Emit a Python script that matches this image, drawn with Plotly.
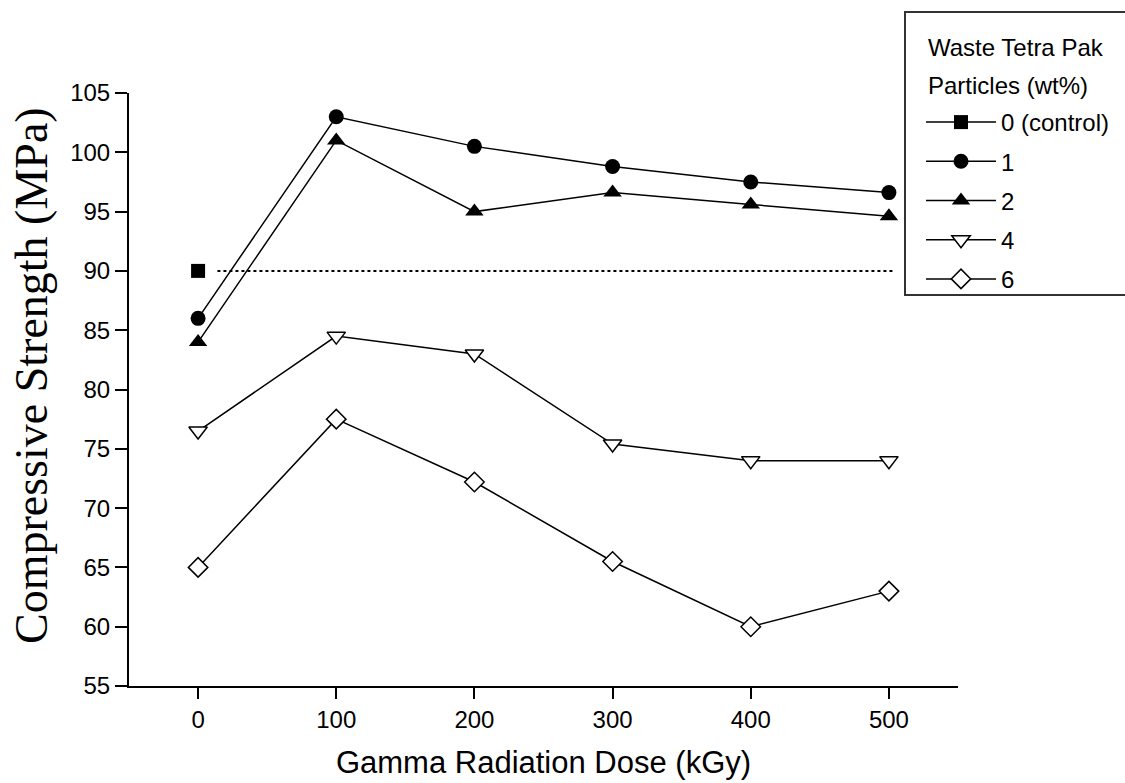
import plotly.graph_objects as go

dose = [0, 100, 200, 300, 400, 500]
control_dose = [0]
control_val = [90]
ref_line_x = [14, 503]
ref_line_y = [90, 90]
s1 = [86, 103, 100.5, 98.8, 97.5, 96.6]
s2 = [84, 101, 95, 96.6, 95.6, 94.6]
s4 = [76.5, 84.5, 83, 75.4, 74, 74]
s6 = [65, 77.5, 72.2, 65.5, 60, 63]
names = ["0 (control)", "1", "2", "4", "6"]
x_ticks = [0, 100, 200, 300, 400, 500]
y_ticks = [55, 60, 65, 70, 75, 80, 85, 90, 95, 100, 105]

fig = go.Figure()
black = "black"
lw = 1.5

fig.add_trace(go.Scatter(x=ref_line_x, y=ref_line_y, mode="lines",
                         line=dict(color=black, width=2, dash="dot"),
                         showlegend=False, hoverinfo="skip"))
fig.add_trace(go.Scatter(x=control_dose, y=control_val, mode="lines+markers", name=names[0],
                         legendgroup="a",
                         line=dict(color=black, width=lw),
                         marker=dict(symbol="square", size=14, color=black)))
fig.add_trace(go.Scatter(x=dose, y=s1, mode="lines+markers", name=names[1], legendgroup="b",
                         line=dict(color=black, width=lw),
                         marker=dict(symbol="circle", size=15, color=black)))
fig.add_trace(go.Scatter(x=dose, y=s2, mode="lines+markers", name=names[2], legendgroup="c",
                         line=dict(color=black, width=lw),
                         marker=dict(symbol="triangle-up", size=16, color=black)))
fig.add_trace(go.Scatter(x=dose, y=s4, mode="lines+markers", name=names[3], legendgroup="d",
                         line=dict(color=black, width=lw),
                         marker=dict(symbol="triangle-down", size=16, color="white",
                                     line=dict(color=black, width=1.5))))
fig.add_trace(go.Scatter(x=dose, y=s6, mode="lines+markers", name=names[4], legendgroup="e",
                         line=dict(color=black, width=lw),
                         marker=dict(symbol="diamond", size=15, color="white",
                                     line=dict(color=black, width=1.5))))

L, R, T, B = 129, 167, 93, 97
W, H = 1125, 783
pw, ph = W - L - R, H - T - B

def px_x(p):
    return (p - L) / pw

def px_y(p):
    return (H - B - p) / ph

fig.update_layout(
    width=W, height=H,
    margin=dict(l=L, r=R, t=T, b=B, pad=0, autoexpand=False),
    paper_bgcolor="white", plot_bgcolor="white",
    font=dict(family="Liberation Sans, Arial", size=24, color="black"),
    xaxis=dict(range=[-50, 550], tickvals=x_ticks, ticks="outside", ticklen=11, tickwidth=2,
               tickcolor=black, showline=True, linecolor=black, linewidth=2, showgrid=False,
               zeroline=False, tickfont=dict(size=24), automargin=False,
               title=dict(text="Gamma Radiation Dose (kGy)", font=dict(size=31), standoff=20)),
    yaxis=dict(range=[55, 105], tickvals=y_ticks, ticks="outside", ticklen=12, tickwidth=2,
               tickcolor=black, showline=True, linecolor=black, linewidth=2, showgrid=False,
               zeroline=False, tickfont=dict(size=24), automargin=False),
    legend=dict(x=px_x(921), y=px_y(100), xanchor="left", yanchor="top",
                bgcolor="rgba(0,0,0,0)", borderwidth=0, itemwidth=70,
                font=dict(size=24), tracegroupgap=5, traceorder="grouped"),
    showlegend=True,
)

fig.add_annotation(text="Compressive Strength (MPa)", xref="paper", yref="paper",
                   x=px_x(31), y=px_y(376), xanchor="center", yanchor="middle",
                   textangle=-90, showarrow=False,
                   font=dict(family="Liberation Serif, Times New Roman", size=46))
fig.add_shape(type="rect", xref="paper", yref="paper",
              x0=px_x(905), x1=px_x(1128), y0=px_y(295), y1=px_y(12),
              line=dict(color="#333333", width=2), fillcolor="rgba(0,0,0,0)")
fig.add_annotation(text="Waste Tetra Pak", xref="paper", yref="paper",
                   x=px_x(926), y=px_y(47), xanchor="left", yanchor="middle",
                   showarrow=False, font=dict(size=24))
fig.add_annotation(text="Particles (wt%)", xref="paper", yref="paper",
                   x=px_x(926), y=px_y(85), xanchor="left", yanchor="middle",
                   showarrow=False, font=dict(size=24))

fig.write_html("out.html", config={"displayModeBar": False},
               post_script="document.body.style.margin='0';")
